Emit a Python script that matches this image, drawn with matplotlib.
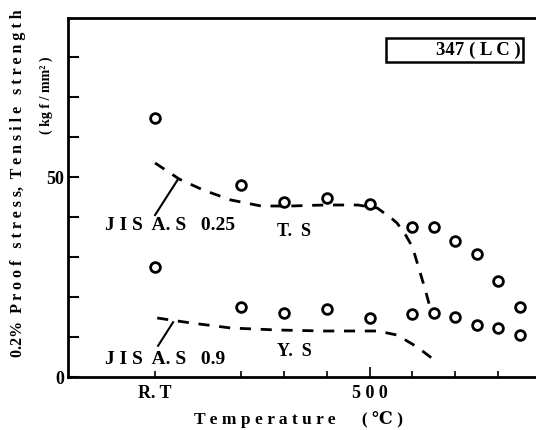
import matplotlib
matplotlib.use("Agg")
import matplotlib.pyplot as plt
from matplotlib.ticker import FixedLocator
from matplotlib.patches import Rectangle

plt.rcParams['font.family'] = ['Liberation Serif', 'DejaVu Serif']
plt.rcParams['font.weight'] = 'bold'

# Measured data (temperature in deg C, R.T plotted at 0)
ts_temp = [0, 200, 300, 400, 500, 600, 650, 700, 750, 800, 850]
ts_val = [64.75, 48.0, 43.75, 44.75, 43.25, 37.5, 37.5, 34.0, 30.75, 24.0, 17.5]
ys_temp = [0, 200, 300, 400, 500, 600, 650, 700, 750, 800, 850]
ys_val = [27.5, 17.5, 16.0, 17.0, 14.75, 15.75, 16.0, 15.0, 13.0, 12.25, 10.5]

# JIS standard curves (dashed)
jis_ts_temp = [0, 56, 112, 177, 247, 316, 394, 472, 518, 553, 564, 584, 600, 614, 630, 642]
jis_ts_val = [53.5, 49.5, 46.75, 44.25, 42.75, 42.75, 43.0, 43.0, 42.25, 39.5, 38.5, 35.5, 32.5, 27.5, 21.75, 17.0]
jis_ys_temp = [5, 84, 177, 285, 395, 518, 564, 611, 657]
jis_ys_val = [14.75, 13.5, 12.25, 11.75, 11.5, 11.5, 10.5, 7.5, 3.75]

x_ticks = [0, 200, 300, 400, 500, 600, 700, 800]
x_tick_labels = {0: "R. T", 500: "5 0 0"}
y_ticks = [0, 10, 20, 30, 40, 50, 60, 70, 80]
y_tick_labels = {0: "0", 50: "50"}

W, H = 536, 430
fig = plt.figure(figsize=(5.36, 4.30), dpi=100)
ax = fig.add_axes([68/W, 1 - 377/H, 1 - 68/W, (377 - 18)/H])
ax.set_xlim(-203, 888)
ax.set_ylim(0, 89.75)

ax.plot(jis_ts_temp, jis_ts_val, color='black', lw=2.0, dashes=(4, 3.5))
ax.plot(jis_ys_temp, jis_ys_val, color='black', lw=2.0, dashes=(4, 3.5))
ax.plot(ts_temp, ts_val, 'o', mfc='white', mec='black', mew=2.0, ms=7, zorder=3)
ax.plot(ys_temp, ys_val, 'o', mfc='white', mec='black', mew=2.0, ms=7, zorder=3)

# leader lines
ax.plot([0, 52], [40.5, 49.2], color='black', lw=1.5)
ax.plot([7, 42], [7.8, 13.7], color='black', lw=1.5)

ax.text(-116, 38, "J I S  A. S   0.25", fontsize=14, ha='left', va='center')
ax.text(325, 36.3, "T.  S", fontsize=13, ha='center', va='center')
ax.text(-116, 4.5, "J I S  A. S   0.9", fontsize=14, ha='left', va='center')
ax.text(325, 6.3, "Y.  S", fontsize=13, ha='center', va='center')

# label box
fig.patches.append(Rectangle((386/W, 1 - 62/H), (523 - 386)/W, 24/H,
                             transform=fig.transFigure, fill=False,
                             ec='black', lw=1.8))
fig.text(521/W, 1 - 50/H, "347 ( L C )", fontsize=13.5, ha='right', va='center')

ax.spines['right'].set_visible(False)
for s in ['left', 'bottom', 'top']:
    ax.spines[s].set_linewidth(2.0)

ax.xaxis.set_major_locator(FixedLocator(x_ticks))
ax.set_xticklabels([x_tick_labels.get(t, "") for t in x_ticks], fontsize=13)
ax.yaxis.set_major_locator(FixedLocator(y_ticks))
ax.set_yticklabels([y_tick_labels.get(t, "") for t in y_ticks], fontsize=13)
ax.tick_params(axis='y', direction='in', length=8, width=1.5, pad=3)
ax.tick_params(axis='x', direction='in', length=4, width=1.2, pad=6)
ax.xaxis.get_major_ticks()[4].tick1line.set_markersize(7)

fig.text(299/W, 1 - 420/H, "T e m p e r a t u r e      ( \u2103 )", fontsize=12.5,
         ha='center', va='center')
fig.text(18/W, 1 - 183/H, "0.2%  P r o o f   s t r e s s,  T e n s i l e   s t r e n g t h",
         fontsize=11.5, rotation=90, ha='center', va='center')
fig.text(46/W, 1 - 95/H, "( kg f / mm\u00b2 )", fontsize=10, rotation=90,
         ha='center', va='center')

fig.savefig("out.png", dpi=100)
